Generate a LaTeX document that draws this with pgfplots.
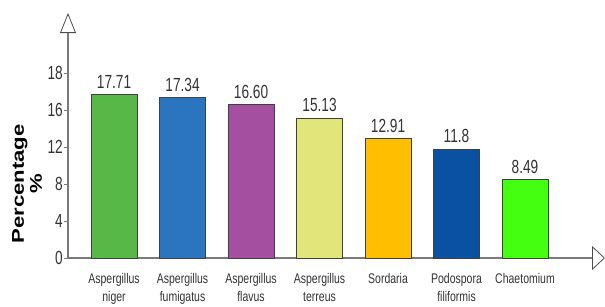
\documentclass[border=0pt]{standalone}
\usepackage{pgfplots}
\pgfplotsset{compat=1.18}
\usetikzlibrary{arrows.meta}
\usepackage{fontspec}
\setmainfont{Liberation Sans}[FakeStretch=0.75]
\newfontfamily\numfont{Liberation Sans}[FakeStretch=0.72]
\newfontfamily\labfont{Liberation Sans}[FakeStretch=1.3]
\definecolor{c1}{HTML}{58B847}
\definecolor{c2}{HTML}{2B74C0}
\definecolor{c3}{HTML}{A44F9F}
\definecolor{c4}{HTML}{E2E57A}
\definecolor{c5}{HTML}{FFBF00}
\definecolor{c6}{HTML}{0B51A2}
\definecolor{c7}{HTML}{44FF0F}
\definecolor{edge}{HTML}{404040}
\definecolor{axisgray}{HTML}{7A7A7A}
\begin{document}
\begin{tikzpicture}[x=1pt,y=1pt]
\useasboundingbox (-68,-48) rectangle (537,258);
\begin{axis}[
  at={(0,0)}, anchor=south west,
  scale only axis, width=537pt, height=245pt,
  xmin=-0.672, xmax=7.168, ymin=0, ymax=26.5,
  clip=false,
  axis lines=left,
  axis line style={draw=axisgray, line width=1.3pt},
  x axis line style={-{Triangle[open,length=13pt,width=24pt,line width=0.8pt,color=black!70]}},
  y axis line style={-{Triangle[open,length=20pt,width=16pt,line width=0.8pt,color=black!70]}},
  ytick={0,4,8,12,16,20}, yticklabels={0,4,8,12,16,18},
  xtick={0,...,6},
  xticklabels={Aspergillus\\niger, Aspergillus\\fumigatus, Aspergillus\\flavus, Aspergillus\\terreus, Sordaria, Podospora\\filiformis, Chaetomium},
  tick align=outside, major tick length=4pt,
  ytick style={draw=axisgray, line width=1pt},
  xtick style={draw=none},
  yticklabel style={font=\numfont\fontsize{19}{19}\selectfont, text=black!80, inner sep=1pt},
  xticklabel style={font=\fontsize{14}{18}\selectfont, text=black!80, align=center, anchor=north, yshift=-8pt},
  ylabel={Percentage\\\%},
  ylabel style={at={(axis description cs:-0.076,0.302)}, anchor=center, align=center, font=\labfont\bfseries\fontsize{17}{18}\selectfont},
  ybar, bar width=46pt,
  nodes near coords, point meta=explicit symbolic,
  nodes near coords style={font=\numfont\fontsize{19}{19}\selectfont, text=black!80, inner sep=2pt, yshift=4pt},
]
\addplot[fill=c1, draw=edge, bar shift=0pt] coordinates {(0,17.71) [17.71]};
\addplot[fill=c2, draw=edge, bar shift=0pt] coordinates {(1,17.34) [17.34]};
\addplot[fill=c3, draw=edge, bar shift=0pt] coordinates {(2,16.60) [16.60]};
\addplot[fill=c4, draw=edge, bar shift=0pt] coordinates {(3,15.13) [15.13]};
\addplot[fill=c5, draw=edge, bar shift=0pt] coordinates {(4,12.91) [12.91]};
\addplot[fill=c6, draw=edge, bar shift=0pt] coordinates {(5,11.8) [11.8]};
\addplot[fill=c7, draw=edge, bar shift=0pt] coordinates {(6,8.49) [8.49]};
\end{axis}
\end{tikzpicture}
\end{document}
